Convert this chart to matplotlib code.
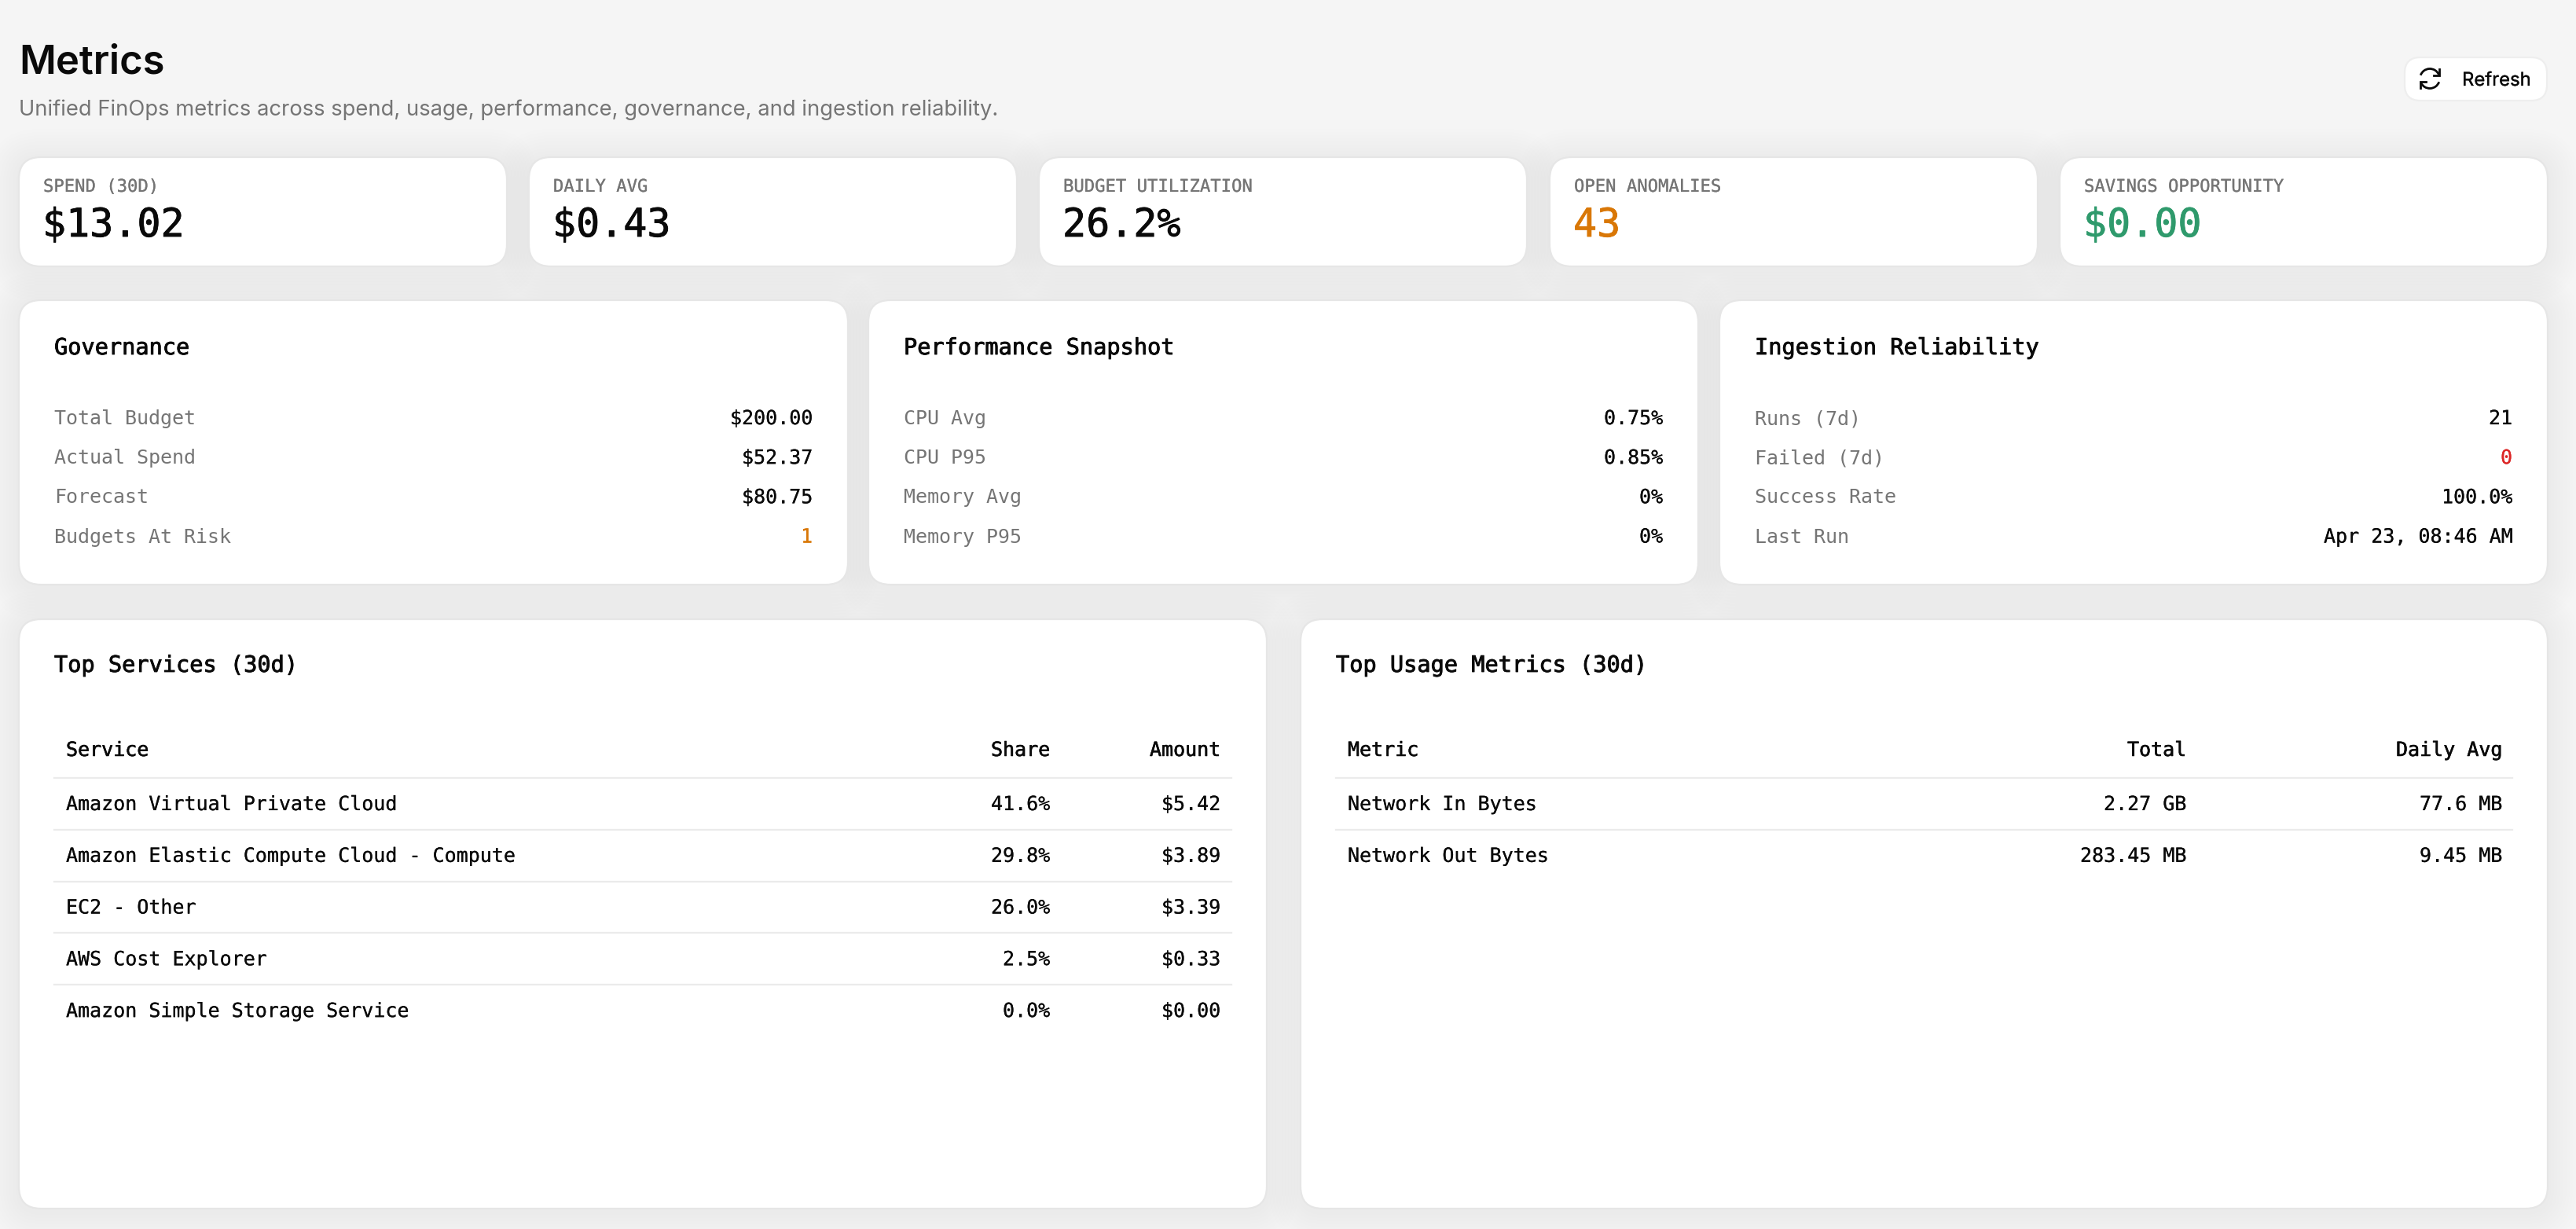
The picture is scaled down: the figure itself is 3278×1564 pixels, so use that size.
import math
import matplotlib
matplotlib.use("Agg")
import matplotlib.pyplot as plt
from matplotlib.patches import FancyBboxPatch, Arc
import matplotlib.patheffects as pe

W = 3278
H = 1564

# kpi cards
kpi_labels = ["SPEND (30D)", "DAILY AVG", "BUDGET UTILIZATION", "OPEN ANOMALIES", "SAVINGS OPPORTUNITY"]
kpi_values = ["$13.02", "$0.43", "26.2%", "43", "$0.00"]
kpi_colors = ["#0a0a0a", "#0a0a0a", "#0a0a0a", "#d97706", "#2f9a6c"]

# summary panels
gov_labels = ["Total Budget", "Actual Spend", "Forecast", "Budgets At Risk"]
gov_values = ["$200.00", "$52.37", "$80.75", "1"]
perf_labels = ["CPU Avg", "CPU P95", "Memory Avg", "Memory P95"]
perf_values = ["0.75%", "0.85%", "0%", "0%"]
ing_labels = ["Runs (7d)", "Failed (7d)", "Success Rate", "Last Run"]
ing_values = ["21", "0", "100.0%", "Apr 23, 08:46 AM"]

# tables
services = ["Amazon Virtual Private Cloud", "Amazon Elastic Compute Cloud - Compute", "EC2 - Other",
            "AWS Cost Explorer", "Amazon Simple Storage Service"]
service_share = ["41.6%", "29.8%", "26.0%", "2.5%", "0.0%"]
service_amount = ["$5.42", "$3.89", "$3.39", "$0.33", "$0.00"]
usage_metrics = ["Network In Bytes", "Network Out Bytes"]
usage_total = ["2.27 GB", "283.45 MB"]
usage_daily = ["77.6 MB", "9.45 MB"]

BG = "#f5f5f5"
INK = "#0a0a0a"
MUTED = "#757575"
LINE = "#ebebeb"
MONO = "DejaVu Sans Mono"
SANS = "Inter"


def card(ax, x0, y0, x1, y1, r=28, shadow=True, edge="#e6e6e6"):
    # soft shadow, a stack of very light boxes
    if shadow:
        for s in range(40, 0, -4):
            ax.add_patch(FancyBboxPatch((x0 - s, y0 - s + 4), x1 - x0 + 2 * s, y1 - y0 + 2 * s,
                                        boxstyle="round,pad=0,rounding_size=%d" % (r + s),
                                        fc="#000000", ec="none", alpha=0.0028, zorder=1))
    ax.add_patch(FancyBboxPatch((x0, y0), x1 - x0, y1 - y0,
                                boxstyle="round,pad=0,rounding_size=%d" % r,
                                fc="white", ec=edge, lw=1.6, zorder=2))


def txt(ax, x, y, s, size=18, color=INK, ha="left", family=MONO, weight="normal", stroke=0.12):
    t = ax.text(x, y, s, fontsize=size, color=color, ha=ha, va="baseline",
                family=family, fontweight=weight, zorder=3)
    if stroke > 0:
        t.set_path_effects([pe.withStroke(linewidth=stroke, foreground=color)])
    return t


def summary_panel(ax, x0, x1, title, labels, values):
    card(ax, x0, 382, x1, 744)
    txt(ax, x0 + 45, 451, title, size=20.6, stroke=0.6)
    for i in range(len(labels)):
        y = 540 + i * 50.2
        txt(ax, x0 + 45, y, labels[i], color=MUTED, stroke=0)
        c = INK
        if labels[i] == "Budgets At Risk":
            c = "#d97706"
        if labels[i] == "Failed (7d)":
            c = "#dc2626"
        txt(ax, x1 - 45, y, values[i], color=c, ha="right")


def table_panel(ax, x0, x1, title, headers, col_right, rows):
    card(ax, x0, 788, x1, 1538)
    txt(ax, x0 + 45, 855, title, size=20.6, stroke=0.6)
    left = x0 + 45
    right = x1 - 45
    txt(ax, left + 15, 962, headers[0], stroke=0.4)
    for j in range(1, 3):
        txt(ax, col_right[j - 1], 962, headers[j], ha="right", stroke=0.4)
    ax.plot([left, right], [990, 990], color=LINE, lw=1.6, zorder=3)
    for i in range(len(rows[0])):
        y = 1031 + i * 65.8
        txt(ax, left + 15, y, rows[0][i])
        txt(ax, col_right[0], y, rows[1][i], ha="right")
        txt(ax, col_right[1], y, rows[2][i], ha="right")
        if i < len(rows[0]) - 1:
            ax.plot([left, right], [990 + (i + 1) * 65.8] * 2, color=LINE, lw=1.6, zorder=3)


def refresh_icon(ax, cx, cy, r=12.5):
    for start, end, tip in [(200, 335, 335), (20, 155, 155)]:
        ax.add_patch(Arc((cx, cy), 2 * r, 2 * r, theta1=start, theta2=end, color=INK, lw=2.0, zorder=4))
        a = math.radians(tip)
        px = cx + r * math.cos(a)
        py = cy + r * math.sin(a)
        d = 1 if tip == 335 else -1
        ax.plot([px + d * 1, px + d * 1, px + d * -6], [py - d * 7, py + d * 1, py + d * 1],
                color=INK, lw=2.0, zorder=4, solid_joinstyle="miter")


fig = plt.figure(figsize=(W / 100, H / 100), dpi=100, facecolor=BG)
ax = fig.add_axes([0, 0, 1, 1])
ax.set_xlim(0, W)
ax.set_ylim(H, 0)
ax.axis("off")

# header
txt(ax, 24, 94, "Metrics", size=36.5, family=SANS, weight="semibold", stroke=0)
txt(ax, 24, 147, "Unified FinOps metrics across spend, usage, performance, governance, and ingestion reliability.",
    size=19.73, color=MUTED, family=SANS, stroke=0)

card(ax, 3060, 73, 3241, 128, r=20, shadow=False, edge="#eeeeee")
refresh_icon(ax, 3092, 100)
txt(ax, 3133, 109, "Refresh", size=17.2, family=SANS, stroke=0.2)

# kpi row
kpi_x = [24, 673, 1322, 1972, 2621]
kpi_w = 621
for i in range(len(kpi_labels)):
    card(ax, kpi_x[i], 200, kpi_x[i] + kpi_w, 339)
    txt(ax, kpi_x[i] + 31, 244, kpi_labels[i], size=16, color=MUTED, stroke=0.15)
    txt(ax, kpi_x[i] + 30, 301, kpi_values[i], size=36, color=kpi_colors[i], stroke=0.6)

# middle row
summary_panel(ax, 24, 1079, "Governance", gov_labels, gov_values)
summary_panel(ax, 1105, 2161, "Performance Snapshot", perf_labels, perf_values)
summary_panel(ax, 2188, 3242, "Ingestion Reliability", ing_labels, ing_values)

# tables
table_panel(ax, 24, 1612, "Top Services (30d)", ["Service", "Share", "Amount"], [1336, 1553],
            [services, service_share, service_amount])
table_panel(ax, 1655, 3242, "Top Usage Metrics (30d)", ["Metric", "Total", "Daily Avg"], [2782, 3184],
            [usage_metrics, usage_total, usage_daily])

fig.savefig("out.png", dpi=100, facecolor=BG)
